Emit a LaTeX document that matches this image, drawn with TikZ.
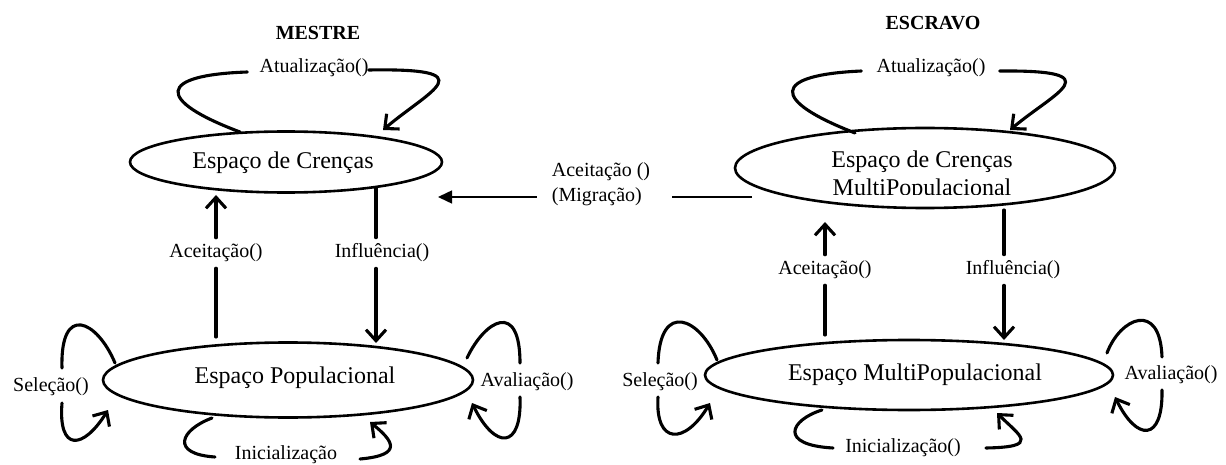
\documentclass[tikz,border=0pt]{standalone}
\usepackage{fontspec}
\setmainfont{Liberation Serif}
\usetikzlibrary{shapes.geometric,arrows.meta,calc}
\begin{document}
\begin{tikzpicture}[x=1pt,y=-1pt,
  ell/.style={draw, ellipse, line width=2.6pt, inner sep=0pt},
  ctext/.style={font=\fontsize{24}{28}\selectfont, inner sep=0pt},
  lbl/.style={font=\fontsize{20}{24}\selectfont, inner sep=0pt},
  ttl/.style={font=\fontsize{20}{24}\selectfont\bfseries, inner sep=0pt},
  conn/.style={line width=3.1pt, line cap=round},
  barb/.style={conn, -{Straight Barb[length=11pt,width=20pt]}},
  mig/.style={line width=1.5pt, -{Triangle[length=14pt,width=13pt]}}
]
\useasboundingbox (0,0) rectangle (1226,465);
\clip (0,0) rectangle (1226,465);

% titles
\node[ttl] (tM) at (318,33) {MESTRE};
\node[ttl] (tE) at (933,23) {ESCRAVO};

% ellipses
\node[ell, minimum width=312pt, minimum height=61pt] (E1) at (286,162) {};
\node[ctext] (t1) at (283,163) {Espaço de Crenças};
\node[ell, minimum width=370pt, minimum height=75pt] (E2) at (288,380) {};
\node[ctext] (t2) at (295,378) {Espaço Populacional};
\node[ell, minimum width=380pt, minimum height=80pt] (E3) at (925,168) {};
\begin{scope}
\clip (700,100) rectangle (1150,195);
\node[ctext, align=center] (t3) at (922,176) {Espaço de Crenças\\MultiPopulacional};
\end{scope}
\node[ell, minimum width=408pt, minimum height=70pt] (E4) at (909,375) {};
\node[ctext] (t4) at (915,375) {Espaço MultiPopulacional};

% labels
\node[lbl] (lU1) at (314,68) {Atualização()};
\node[lbl] (lU2) at (931,68) {Atualização()};
\node[lbl, inner ysep=6pt] (lA1) at (216,253) {Aceitação()};
\node[lbl, inner ysep=6pt] (lI1) at (382,253) {Influência()};
\node[lbl, inner ysep=6pt] (lA2) at (825,270) {Aceitação()};
\node[lbl, inner ysep=6pt] (lI2) at (1013,270) {Influência()};
\node[lbl] (lS1) at (51,387) {Seleção()};
\node[lbl] (lV1) at (527,382) {Avaliação()};
\node[lbl, anchor=base] (lN1) at (286,459) {Inicialização};
\node[lbl] (lS2) at (660,382) {Seleção()};
\node[lbl] (lV2) at (1171,375) {Avaliação()};
\node[lbl] (lN2) at (903,448) {Inicialização()};
\node[lbl, align=left, font=\fontsize{20}{25}\selectfont] (lM) at (601,184) {Aceitação ()\\(Migração)};

% MESTRE connectors
\draw[conn] ($(E1.center)+(-46,-30)$) .. controls +(-85,-32) and +(-90,3) .. ($(lU1.west)+(-12,4)$);
\draw[barb] ($(lU1.east)+(0,2)$) .. controls +(118,-2) and +(47,-40) .. ($(E1.center)+(97,-32)$);
\draw[conn] ($(E2.center)+(-72,-43)$) -- (lA1.south);
\draw[barb] (lA1.north) -- ($(E1.center)+(-70,33)$);
\draw[conn] ($(E1.center)+(90,26)$) -- ($(lI1.north)+(-6,0)$);
\draw[barb] ($(lI1.south)+(-6,0)$) -- ($(E2.center)+(88,-37)$);
\draw[conn] ($(E2.center)+(-173,-17)$) .. controls +(-18,-43) and +(-2,-65) .. ($(lS1.center)+(11,-19)$);
\draw[barb] ($(lS1.center)+(11,16)$) .. controls +(-4,49) and +(-25,40) .. ($(E2.center)+(-180,30)$);
\draw[conn] ($(E2.center)+(179,-22)$) .. controls +(18,-38) and +(0,-63) .. ($(lV1.center)+(-7,-19)$);
\draw[barb] ($(lV1.center)+(-7,15)$) .. controls +(2,53) and +(23,47) .. ($(E2.center)+(184,23)$);
\draw[conn] ($(E2.center)+(-76,38)$) .. controls +(-32,12) and +(-45,-3) .. ($(lN1.base)+(-71,-2)$);
\draw[barb] ($(lN1.base)+(74,0)$) .. controls +(45,-4) and +(22,18) .. ($(E2.center)+(82,42)$);

% ESCRAVO connectors
\draw[conn] ($(E3.center)+(-70,-35)$) .. controls +(-85,-33) and +(-90,4) .. ($(lU2.west)+(-15,3)$);
\draw[barb] ($(lU2.east)+(14,3)$) .. controls +(113,-1) and +(45,-38) .. ($(E3.center)+(85,-38)$);
\draw[conn] ($(E4.center)+(-84,-40)$) -- (lA2.south);
\draw[barb] (lA2.north) -- ($(E3.center)+(-100,54)$);
\draw[conn] ($(E3.center)+(79,42)$) -- ($(lI2.north)+(-9,0)$);
\draw[barb] ($(lI2.south)+(-9,0)$) -- ($(E4.center)+(95,-35)$);
\draw[conn] ($(E4.center)+(-192,-15)$) .. controls +(-17,-42) and +(2,-63) .. ($(lS2.center)+(-2,-19)$);
\draw[barb] ($(lS2.center)+(-2,15)$) .. controls +(-3,48) and +(-25,42) .. ($(E4.center)+(-199,28)$);
\draw[conn] ($(E4.center)+(198,-22)$) .. controls +(13,-35) and +(-2,-57) .. ($(lV2.center)+(-9,-18)$);
\draw[barb] ($(lV2.center)+(-9,15)$) .. controls +(1,52) and +(22,45) .. ($(E4.center)+(206,22)$);
\draw[conn] ($(E4.center)+(-87,35)$) .. controls +(-32,10) and +(-55,-3) .. ($(lN2.west)+(-12,0)$);
\draw[barb] ($(lN2.east)+(25,0)$) .. controls +(55,-1) and +(23,23) .. ($(E4.center)+(88,38)$);

% migration
\draw[line width=1.5pt] ($(E3.center)+(-173,29)$) -- ($(lM.east)+(22,13)$);
\draw[mig] ($(lM.west)+(-15,13)$) -- ($(E1.center)+(152,35)$);
\end{tikzpicture}
\end{document}
